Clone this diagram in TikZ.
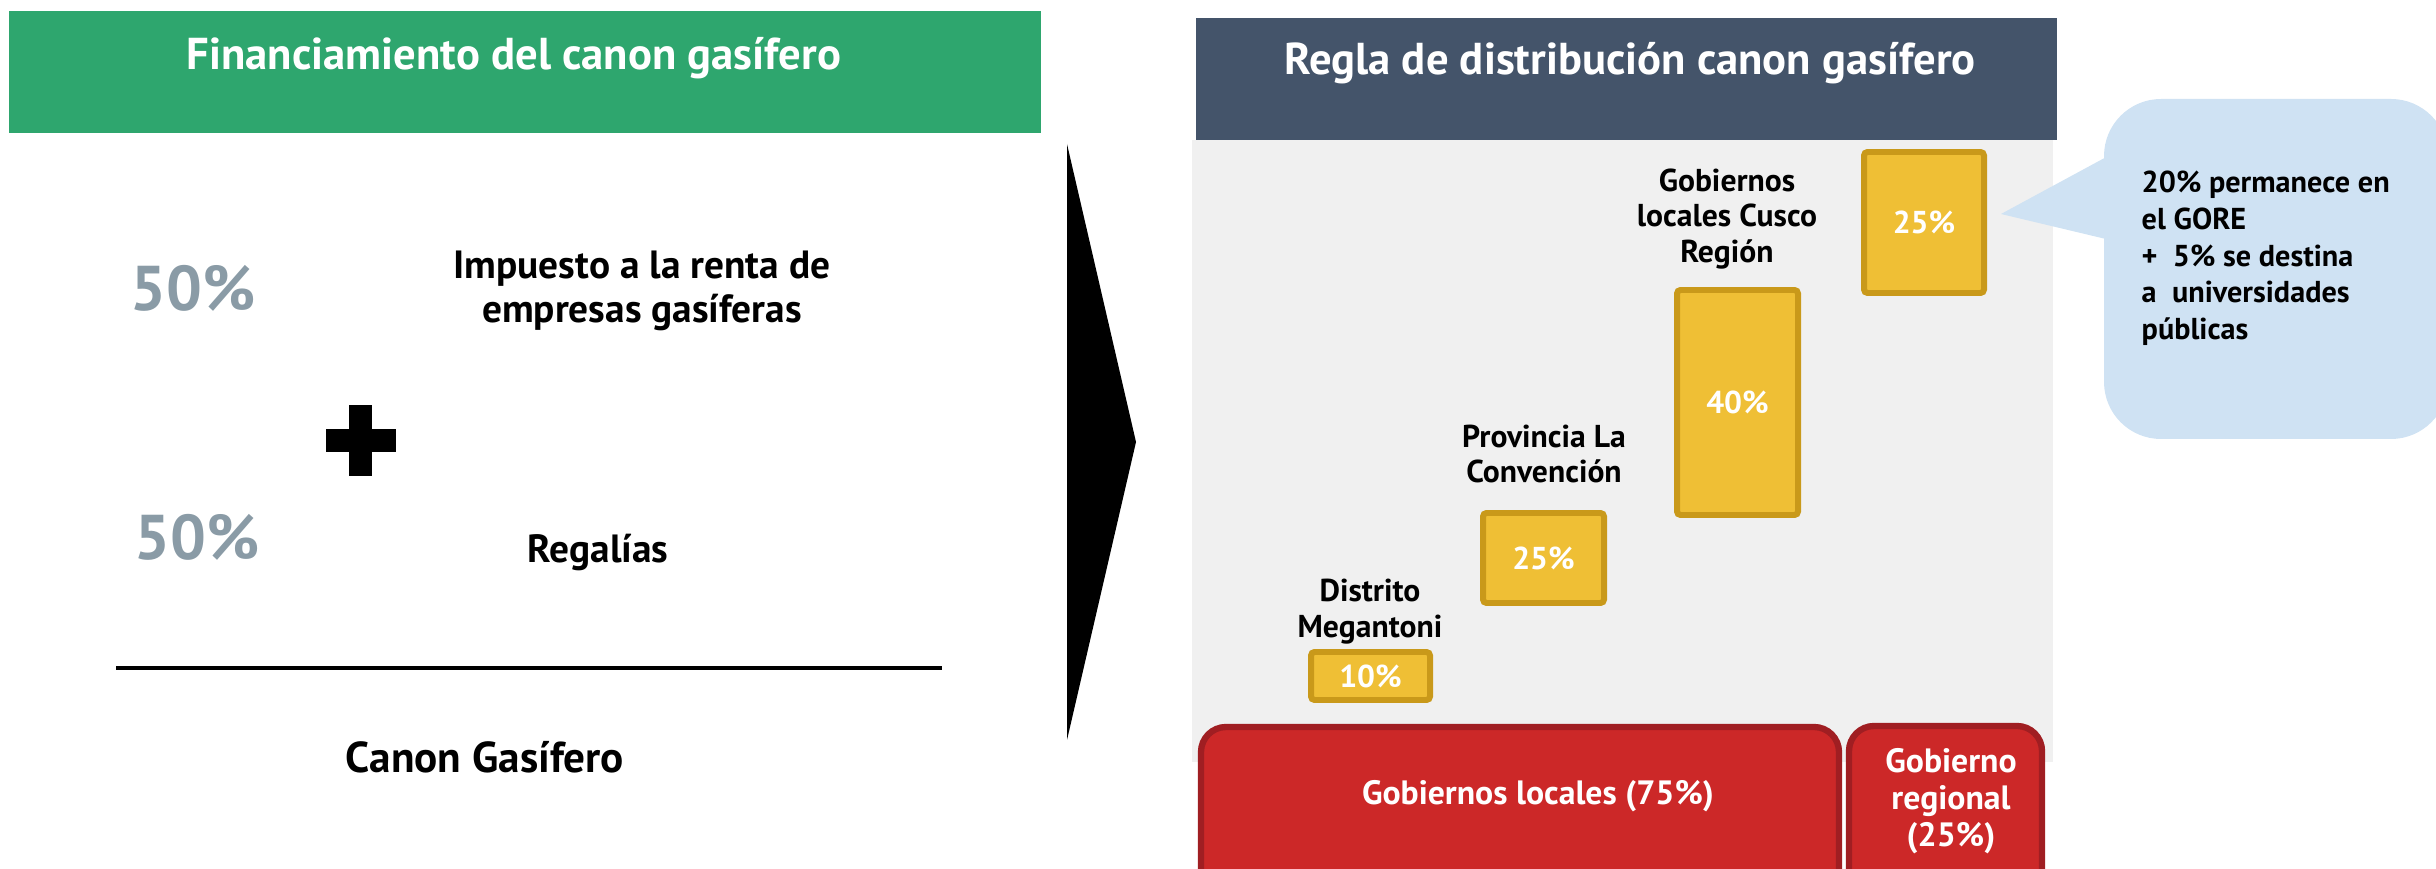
\documentclass[tikz,border=0pt]{standalone}
\usepackage{fontspec}
\setmainfont{PT Sans}
\usetikzlibrary{calc}

\definecolor{verdecab}{RGB}{46,166,110}
\definecolor{azulcab}{RGB}{68,84,106}
\definecolor{grisnum}{RGB}{138,155,166}
\definecolor{grisfondo}{RGB}{240,240,240}
\definecolor{amarillo}{RGB}{239,191,53}
\definecolor{amarilloborde}{RGB}{201,153,26}
\definecolor{rojo}{RGB}{204,40,40}
\definecolor{rojoborde}{RGB}{160,30,34}
\definecolor{celeste}{RGB}{207,226,243}

\tikzset{
  titulo/.style={text=white, font=\bfseries\fontsize{12.7}{14}\selectfont},
  porcentaje/.style={text=grisnum, font=\bfseries\fontsize{18}{22}\selectfont},
  concepto/.style={align=center, font=\bfseries\fontsize{11.2}{12.5}\selectfont},
  nivel/.style={align=center, font=\bfseries\fontsize{9}{10.2}\selectfont},
  barra/.style={draw=amarilloborde, fill=amarillo, line width=1.7pt, rounded corners=1pt,
    text=white, font=\bfseries\fontsize{9}{11}\selectfont, inner sep=0pt},
  gobierno/.style={draw=rojoborde, fill=rojo, line width=1.8pt, rounded corners=0.25cm},
  etiqueta/.style={text=white, align=center, font=\bfseries\fontsize{9.6}{10.5}\selectfont}
}

\begin{document}
\begin{tikzpicture}
\useasboundingbox (0,0) rectangle (24.36,8.69);
\clip (0,0) rectangle (24.36,8.69);

% financiamiento
\fill[verdecab] (0.09,8.58) rectangle (10.41,7.36) node[titulo, anchor=base] (fintit) at (5.14,7.99) {Financiamiento del canon gasífero};
\node[porcentaje, anchor=base] (pct1) at (1.93,5.58) {50\%};
\node[concepto] (impuesto) at (6.42,5.78) {Impuesto a la renta de\\empresas gasíferas};
\fill (3.26,4.17) rectangle (3.96,4.40);
\fill (3.49,3.93) rectangle (3.72,4.64);
\node[porcentaje, anchor=base] (pct2) at (1.97,3.09) {50\%};
\node[concepto, anchor=base] (regalias) at (5.98,3.06) {Regalías};
\draw[line width=1.4pt] (1.16,2.01) -- (9.42,2.01);
\node[concepto, anchor=base, font=\bfseries\fontsize{12.3}{14}\selectfont] (canon) at (4.85,0.96) {Canon Gasífero};

% flecha
\fill (10.67,7.25) -- (11.36,4.27) -- (10.67,1.29) -- cycle;

% distribucion
\fill[grisfondo] (11.92,7.29) rectangle (20.53,1.07);
\fill[azulcab] (11.96,8.51) rectangle (20.57,7.29) node[titulo, anchor=base] (distit) at (16.30,7.94) {Regla de distribución canon gasífero};

\node[barra, minimum width=1.20cm, minimum height=1.41cm] (b25a) at (19.24,6.465) {25\%};
\node[barra, minimum width=1.21cm, minimum height=2.25cm] (b40) at (17.375,4.665) {40\%};
\node[barra, minimum width=1.21cm, minimum height=0.90cm] (b25b) at (15.435,3.11) {25\%};
\node[barra, minimum width=1.19cm, minimum height=0.48cm] (b10) at (13.705,1.93) {10\%};

\node[nivel] (cusco) at (17.27,6.50) {Gobiernos\\locales Cusco\\Región};
\node[nivel] (provincia) at (15.44,4.15) {Provincia La\\Convención};
\node[nivel] (distrito) at (13.70,2.57) {Distrito\\Megantoni};

\draw[gobierno] (12.01,1.42) rectangle (18.39,-0.30) node[etiqueta, anchor=base] (locales) at (15.38,0.64) {Gobiernos locales (75\%)};
\draw[gobierno] (18.49,1.43) rectangle (20.42,-0.30) node[etiqueta] (regional) at (19.51,0.68) {Gobierno\\regional\\(25\%)};

% nota
\fill[celeste, rounded corners=0.57cm] (21.04,7.70) rectangle (24.48,4.30);
\fill[celeste] (21.10,7.14) -- (20.01,6.55) -- (21.10,6.29) -- cycle;
\node[anchor=north west, align=left, inner sep=0pt, font=\bfseries\fontsize{8.6}{10.5}\selectfont] (gore) at (21.41,6.99)
  {20\% permanece en\\el GORE\\+\ \ 5\% se destina\\a\ \ universidades\\públicas};
\end{tikzpicture}
\end{document}
